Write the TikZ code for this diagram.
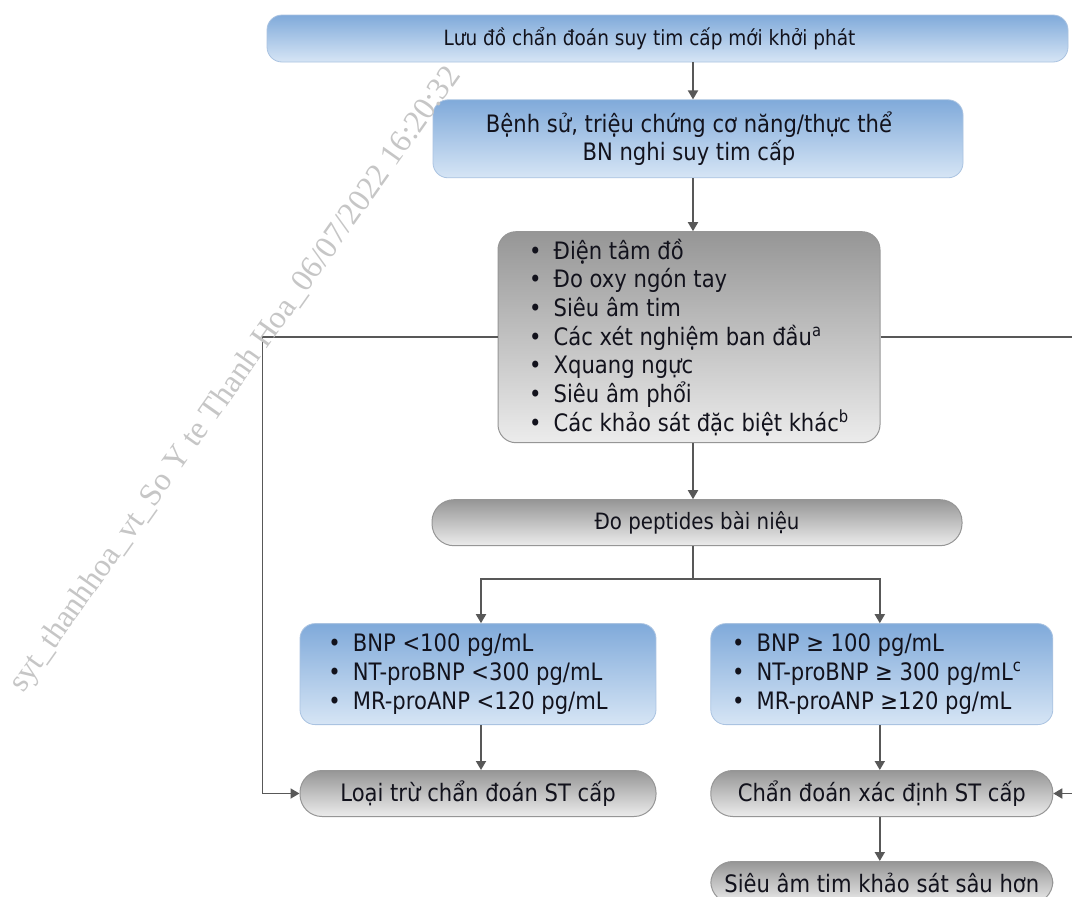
\documentclass[tikz,border=0pt]{standalone}
\usepackage{fontspec}
\setmainfont[FakeStretch=0.88]{DejaVu Sans}
\newfontfamily\stampfont{Liberation Serif}
\usepackage{tikz}
\usetikzlibrary{shapes,arrows.meta,positioning,calc}
\definecolor{bluetop}{RGB}{128,170,218}
\definecolor{bluebot}{RGB}{214,229,245}
\definecolor{blueedge}{RGB}{170,195,225}
\definecolor{graytop}{RGB}{150,150,150}
\definecolor{graybot}{RGB}{236,236,236}
\definecolor{grayedge}{RGB}{150,150,150}
\definecolor{linegray}{RGB}{88,88,88}
\definecolor{textnavy}{RGB}{18,18,28}
\tikzset{
    base/.style={rectangle, inner sep=0pt, align=center, text=textnavy, font=\fontsize{24}{28.7}\selectfont},
    bluebox/.style={base, shading=axis, top color=bluetop, bottom color=bluebot, draw=blueedge, line width=0.8pt, rounded corners=15pt},
    graybox/.style={base, shading=axis, top color=graytop, bottom color=graybot, draw=grayedge, line width=1pt, rounded corners=18pt},
    pill/.style={graybox, rounded corners=22pt},
    listbox/.style={align=left},
    line/.style={draw=linegray, line width=1.8pt, -{Triangle[length=9pt,width=10pt]}},
    stamp/.style={text=gray!45, font=\stampfont\fontsize{32}{32}\selectfont}
}
\newcommand{\itm}{\textbullet\hspace{0.5em}}
\begin{document}
\begin{tikzpicture}[x=1pt, y=1pt]
    \useasboundingbox (0,0) rectangle (1072,-897);
    \fill[white] (0,0) rectangle (1072,-897);
    \clip (0,0) rectangle (1072,-897);
    \coordinate (spine) at (693,0);

    % Title
    \node [bluebox, font=\fontsize{21}{26}\selectfont, minimum width=801pt, minimum height=47pt] (title) at (667.5,-38.5)
        {Lưu đồ chẩn đoán suy tim cấp mới khởi phát\hspace{36pt}\mbox{}};

    % Suspected patient
    \node [bluebox, font=\fontsize{24}{28}\selectfont, minimum width=530pt, minimum height=78pt, below=37pt of title, xshift=30.5pt] (history)
        {Bệnh sử, triệu chứng cơ năng/thực thể\hspace{18pt}\mbox{}\\BN nghi suy tim cấp\hspace{18pt}\mbox{}};

    % Initial tests
    \node [graybox, listbox, minimum width=382pt, minimum height=211pt, below=53pt of history, xshift=-9pt] (tests)
        {\itm Điện tâm đồ\\
         \itm Đo oxy ngón tay\\
         \itm Siêu âm tim\\
         \itm Các xét nghiệm ban đầu\textsuperscript{a}\\
         \itm Xquang ngực\\
         \itm Siêu âm phổi\\
         \itm Các khảo sát đặc biệt khác\textsuperscript{b}};

    % Natriuretic peptides
    \node [pill, font=\fontsize{22.5}{27}\selectfont, minimum width=530pt, minimum height=46pt, below=56pt of tests, xshift=8pt] (peptide)
        {Đo peptides bài niệu};

    % Thresholds
    \node [bluebox, listbox, minimum width=356pt, minimum height=101pt, below=77pt of peptide, xshift=-219pt] (low)
        {\itm BNP <100 pg/mL\\
         \itm NT-proBNP <300 pg/mL\\
         \itm MR-proANP <120 pg/mL\hspace{20pt}\mbox{}};
    \node [bluebox, listbox, minimum width=342pt, minimum height=101pt, right=54pt of low] (high)
        {\itm BNP ≥ 100 pg/mL\\
         \itm NT-proBNP ≥ 300 pg/mL\textsuperscript{c}\hspace{10pt}\mbox{}\\
         \itm MR-proANP ≥120 pg/mL};

    % Outcomes
    \node [pill, minimum width=356pt, minimum height=46pt, below=45pt of low] (ruleout)
        {Loại trừ chẩn đoán ST cấp};
    \node [pill, minimum width=342pt, minimum height=46pt, below=45pt of high] (confirm)
        {Chẩn đoán xác định ST cấp};
    \node [pill, minimum width=342pt, minimum height=42pt, below=44pt of confirm] (echo)
        {Siêu âm tim khảo sát sâu hơn};

    % Main flow
    \path [line] (title.south -| spine) -- (history.north -| spine);
    \path [line] (history.south -| spine) -- (tests.north -| spine);
    \path [line] (tests.south -| spine) -- (peptide.north -| spine);
    \draw [linegray, line width=1.8pt] (peptide.south -| spine) -- ++(0,-33) coordinate (fork);
    \path [line] (fork) -| ([xshift=3pt]low.north);
    \path [line] (fork) -| ([xshift=-2pt]high.north);
    \path [line] ([xshift=3pt]low.south) -- ([xshift=3pt]ruleout.north);
    \path [line] ([xshift=-2pt]high.south) -- ([xshift=-2pt]confirm.north);
    \path [line] ([xshift=-2pt]confirm.south) -- ([xshift=-2pt]echo.north);

    % Side rails
    \path [line] (tests.west) -- ++(-235pt,0) |- (ruleout.west);
    \path [line] (tests.east) -- ++(210pt,0) |- (confirm.east);

    % Stamp
    \node [stamp, rotate=54.7] (mark) at (236,-380)
        {syt\_thanhhoa\_vt\_So Y te Thanh Hoa\_06/07/2022 16:20:32};
\end{tikzpicture}
\end{document}
